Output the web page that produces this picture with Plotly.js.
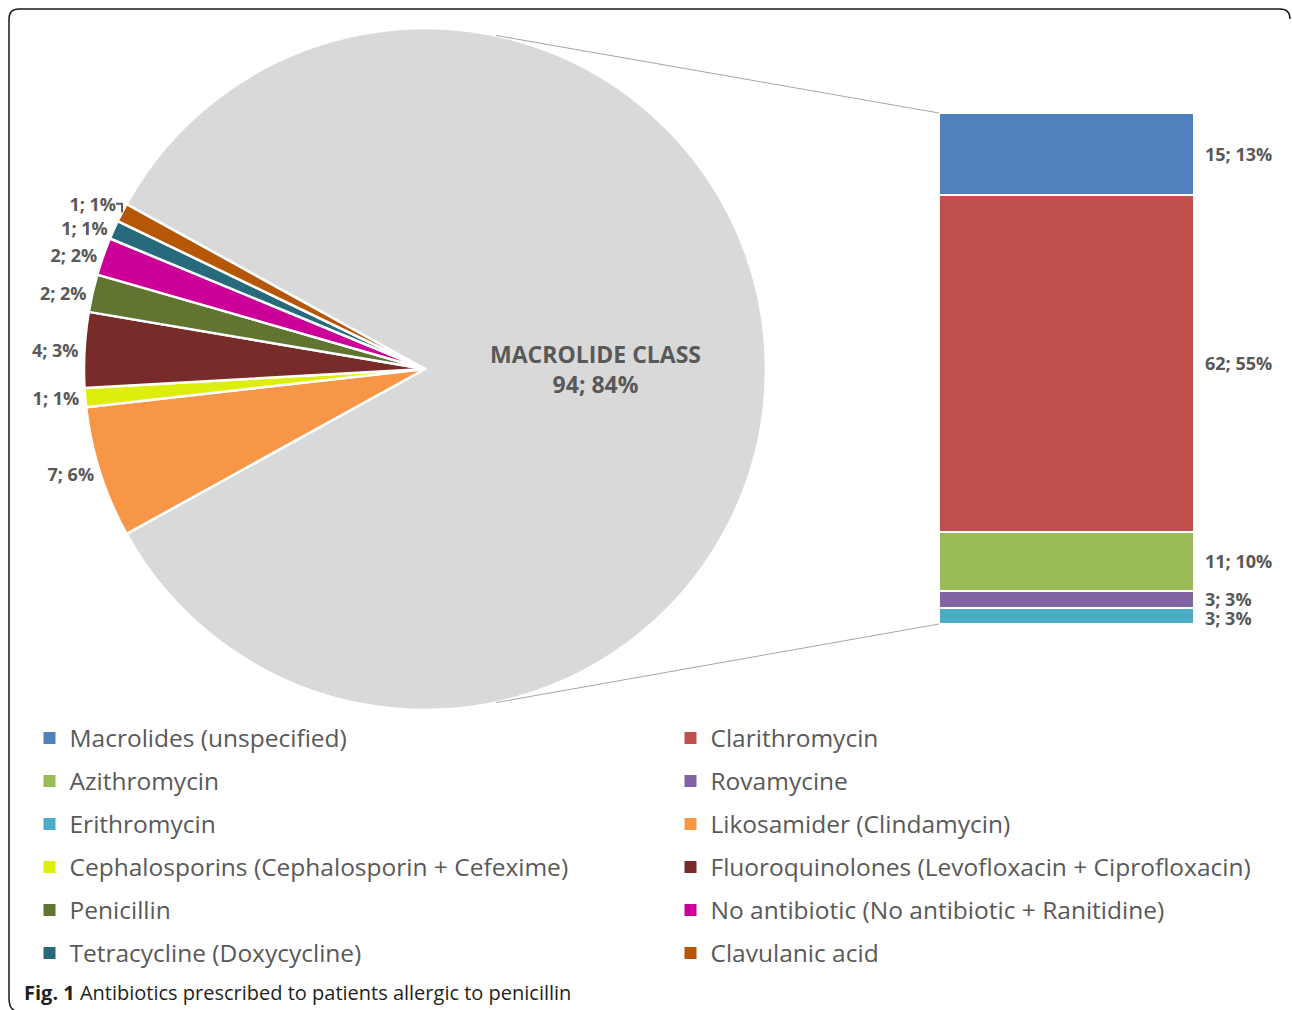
<!DOCTYPE html>
<html><head><meta charset="utf-8">
<script src="https://cdn.plot.ly/plotly-3.0.1.min.js"></script>
<style>html,body{margin:0;padding:0;background:#fff}#chart{width:1292px;height:1010px}</style>
</head><body><div id="chart"></div>
<script>
// ---- Data: pie (left) ----
const pieLabels = ['MACROLIDE CLASS','Likosamider (Clindamycin)','Cephalosporins (Cephalosporin + Cefexime)','Fluoroquinolones (Levofloxacin + Ciprofloxacin)','Penicillin','No antibiotic (No antibiotic + Ranitidine)','Tetracycline (Doxycycline)','Clavulanic acid'];
const pieValues = [94, 7, 1, 4, 2, 2, 1, 1];
const piePct    = [84, 6, 1, 3, 2, 2, 1, 1];
const pieColors = ['#D9D9D9','#F79646','#DDEE0C','#772C2A','#5F7530','#CC0099','#276A7C','#B65708'];

// ---- Data: bar (right), breakdown of the macrolide class ----
const barLabels = ['Macrolides (unspecified)','Clarithromycin','Azithromycin','Rovamycine','Erithromycin'];
const barValues = [15, 62, 11, 3, 3];
const barPct    = [13, 55, 10, 3, 3];
const barColors = ['#4F81BD','#C0504D','#9BBB59','#8064A2','#4BACC6'];

const captionBold = 'Fig. 1';
const captionText = 'Antibiotics prescribed to patients allergic to penicillin';

// ---- Layout geometry ----
const W = 1292, H = 1010;
const pieDom = {x:[84/W, 766/W], y:[1-710/H, 1-28/H]};
const barDom = {x:[939/W, 1194/W], y:[1-624/H, 1-113/H]};
const labelColor = '#595959';
const FONT = '"Open Sans", sans-serif';

const pieTotal = pieValues.reduce((a,b)=>a+b,0);
const barTotal = barValues.reduce((a,b)=>a+b,0);
const greyDeg = pieValues[0]/pieTotal*360;
const rotation = 90 - greyDeg/2;

const traces = [];
traces.push({
  type:'pie', labels:pieLabels, values:pieValues, sort:false, direction:'clockwise', rotation:rotation,
  text: pieValues.map((v,i)=> i===0 ? `${pieLabels[0]}<br>${v}; ${piePct[i]}%` : `${v}; ${piePct[i]}%`),
  textinfo:'text', textposition: pieValues.map((v,i)=> i===0 ? 'inside' : 'outside'),
  insidetextorientation:'horizontal',
  insidetextfont:{family:FONT, size:23, color:labelColor, weight:'bold'},
  outsidetextfont:{family:FONT, size:18, color:labelColor, weight:'bold'},
  marker:{colors:pieColors, line:{color:'#ffffff', width:2.5}},
  domain:pieDom, showlegend:false, automargin:false,
  hovertemplate:'%{label}: %{value}<extra></extra>'
});

// stacked bar segments
barLabels.forEach((name,i)=>{
  traces.push({
    type:'bar', x:['Macrolide class'], y:[barValues[i]], name:name,
    marker:{color:barColors[i], line:{color:'#ffffff', width:2}},
    xaxis:'x', yaxis:'y', textposition:'none', showlegend:false,
    hovertemplate: name+': %{y}<extra></extra>'
  });
});

// legend entries (two columns), in the reference's reading order
const legendNames  = barLabels.concat(pieLabels.slice(1));
const legendColors = barColors.concat(pieColors.slice(1));
legendNames.forEach((name,k)=>{
  traces.push({
    type:'bar', x:[null], y:[null], name:name,
    marker:{color:legendColors[k]}, xaxis:'x', yaxis:'y',
    legend: (k%2===0) ? 'legend' : 'legend2', legendgroup:'g'+k, hoverinfo:'skip'
  });
});

// bar value labels
const annotations = [];
let cum = 0;
barValues.forEach((v,i)=>{
  annotations.push({xref:'x', yref:'y', x:0.5, y:cum+v/2, xanchor:'left', yanchor:'middle', xshift:9,
    yshift: (i===barValues.length-2) ? 1 : (i===barValues.length-1 ? -2 : 0),
    text:`${v}; ${barPct[i]}%`, showarrow:false, font:{family:FONT, size:18, color:labelColor, weight:'bold'}});
  cum += v;
});
annotations.push({xref:'paper', yref:'paper', x:22/W, y:1-992/H, xanchor:'left', yanchor:'middle',
  text:`<b>${captionBold}</b> ${captionText}`, showarrow:false, font:{family:FONT, size:20, color:'#231f20'}});

// connector lines between pie and bar
const cx = W*(pieDom.x[0]+pieDom.x[1])/2, cy = H*(1-(pieDom.y[0]+pieDom.y[1])/2);
const r = Math.min(W*(pieDom.x[1]-pieDom.x[0]), H*(pieDom.y[1]-pieDom.y[0]))/2;
const a = 12*Math.PI/180;
const sx = cx + r*Math.sin(a), syTop = cy - r*Math.cos(a), syBot = cy + r*Math.cos(a);
const P = (x,y)=>`${x/W},${1-y/H}`;
const shapes = [
  {type:'line', xref:'paper', yref:'paper', x0:sx/W, y0:1-syTop/H, x1:barDom.x[0], y1:barDom.y[1], line:{color:'#A6A6A6', width:1}},
  {type:'line', xref:'paper', yref:'paper', x0:sx/W, y0:1-syBot/H, x1:barDom.x[0], y1:barDom.y[0], line:{color:'#A6A6A6', width:1}},
  {type:'path', xref:'paper', yref:'paper', layer:'below',
   path:`M${P(1290,19)} Q${P(1290,9)} ${P(1280,9)} L${P(19,9)} Q${P(9,9)} ${P(9,19)} L${P(9,998)} Q${P(9,1008)} ${P(14,1010)}`,
   line:{color:'#1a1a1a', width:1.5}}
];

const legendBase = {orientation:'v', xanchor:'left', yanchor:'top', y:1-715.5/H, traceorder:'grouped', tracegroupgap:8.15,
  font:{family:FONT, size:24.5, color:labelColor}, bgcolor:'rgba(0,0,0,0)', borderwidth:0, itemclick:false, itemdoubleclick:false};

const layout = {
  width:W, height:H, margin:{l:0,r:0,t:0,b:0}, paper_bgcolor:'#ffffff', plot_bgcolor:'rgba(0,0,0,0)',
  barmode:'stack', bargap:0, showlegend:true,
  xaxis:{domain:barDom.x, range:[-0.5,0.5], visible:false, fixedrange:true, type:'category'},
  yaxis:{domain:barDom.y, range:[barTotal,0], visible:false, fixedrange:true},
  legend: Object.assign({}, legendBase, {x:29.5/W}),
  legend2: Object.assign({}, legendBase, {x:670.5/W}),
  annotations:annotations, shapes:shapes
};

Plotly.newPlot('chart', traces, layout, {displayModeBar:false});
</script>
</body></html>
